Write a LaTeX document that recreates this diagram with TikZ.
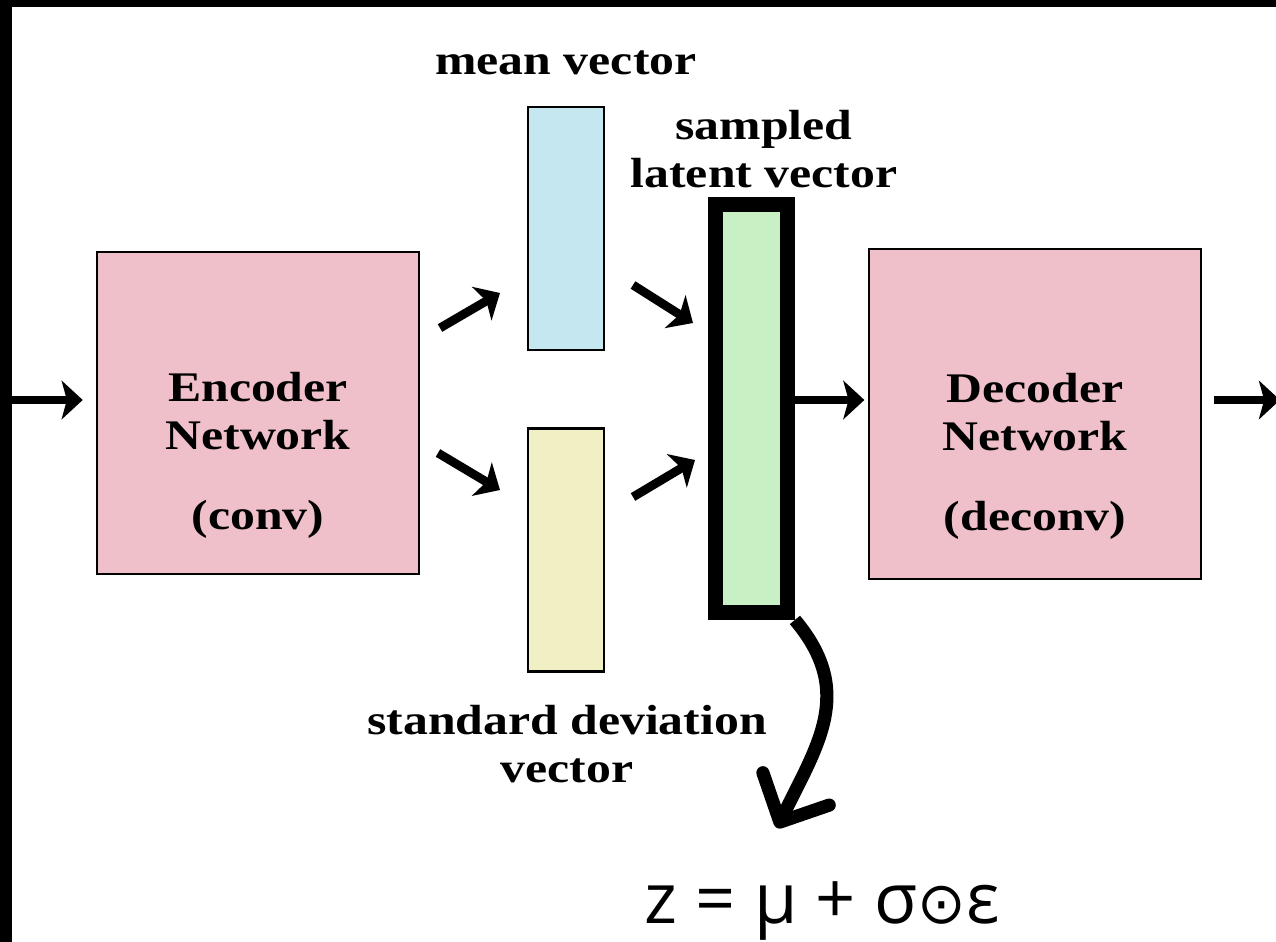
\documentclass[tikz,border=0pt]{standalone}
\usepackage{fontspec}
\setmainfont{Liberation Serif}[FakeStretch=1.18]
\newfontfamily\formfont{Open Sans}
\newfontfamily\symfont{DejaVu Sans}
\usetikzlibrary{arrows.meta}

\definecolor{netpink}{RGB}{240,192,202}
\definecolor{meanblue}{RGB}{197,232,240}
\definecolor{stdyellow}{RGB}{240,240,196}
\definecolor{latgreen}{RGB}{200,240,196}

\tikzset{
    netbox/.style={draw, line width=1.3pt, fill=netpink, inner sep=0pt},
    vecbox/.style={draw, line width=1.3pt, inner sep=0pt,
        minimum width=1.52cm, minimum height=4.86cm},
    lbl/.style={font=\fontsize{24}{27.5}\selectfont\bfseries, align=center},
    arr/.style={line width=5pt, -{Stealth[length=12pt,width=22pt,inset=3pt]}},
    curvarr/.style={line width=7.5pt, -{Straight Barb[length=21pt,width=42pt,round]}}
}

\begin{document}
\begin{tikzpicture}[x=0.02cm,y=0.02cm]
    \useasboundingbox (0,0) rectangle (1276,-942);
    \fill[black] (0,0) rectangle (1276,-942);
    \fill[white] (12,-7) rectangle (1276,-942);

    % boxes
    \node[netbox, minimum width=6.44cm, minimum height=6.44cm] (enc) at (258,-413) {};
    \node[netbox, minimum width=6.64cm, minimum height=6.60cm] (dec) at (1035,-414) {};
    \node[vecbox, fill=meanblue] (mean) at (566,-228.5) {};
    \node[vecbox, fill=stdyellow] (std) at (566,-550) {};
    \node[draw, line width=8.5pt, fill=latgreen, inner sep=0pt,
        minimum width=1.44cm, minimum height=8.16cm] (lat) at (751.5,-408.5) {};

    % texts
    \node[lbl] (enctxt) at (258,-455) {Encoder\\Network\\[18pt](conv)};
    \node[lbl] (dectxt) at (1035,-456) {Decoder\\Network\\[18pt](deconv)};
    \node[lbl, anchor=base] (meanlbl) at (566,-75) {mean vector};
    \node[lbl] (latlbl) at (764,-149) {sampled\\latent vector};
    \node[lbl] (stdlbl) at (567,-744) {standard deviation\\vector};
    \node[font=\formfont\fontsize{40}{44}\selectfont, anchor=base] (zform)
        at (822,-923) {z = μ + σ{\symfont\fontsize{33}{40}\selectfont ⊙}ε};

    % straight arrows
    \coordinate (in) at (12,-400);
    \coordinate (out) at (1280,-400);
    \draw[arr, shorten >=7.5pt] (in) -- (in -| enc.west);
    \draw[arr, shorten >=2pt] (lat.east |- in) -- (dec.west |- in);
    \draw[arr, shorten <=6.5pt] (dec.east |- in) -- (out);

    \foreach \n/\xa/\ya/\xb/\yb in
        {em/440/328/500/293, es/438/453/500/490,
         ml/633/285/693/323, sl/633/497/695/460}
        {
            \coordinate (\n-a) at (\xa,-\ya);
            \coordinate (\n-b) at (\xb,-\yb);
            \draw[arr] (\n-a) -- (\n-b);
        }

    % sampling arrow
    \coordinate (ztip) at (777,-828);
    \draw[curvarr] (lat.south east) to[out=-50,in=64,looseness=1.15] (ztip);
\end{tikzpicture}
\end{document}
